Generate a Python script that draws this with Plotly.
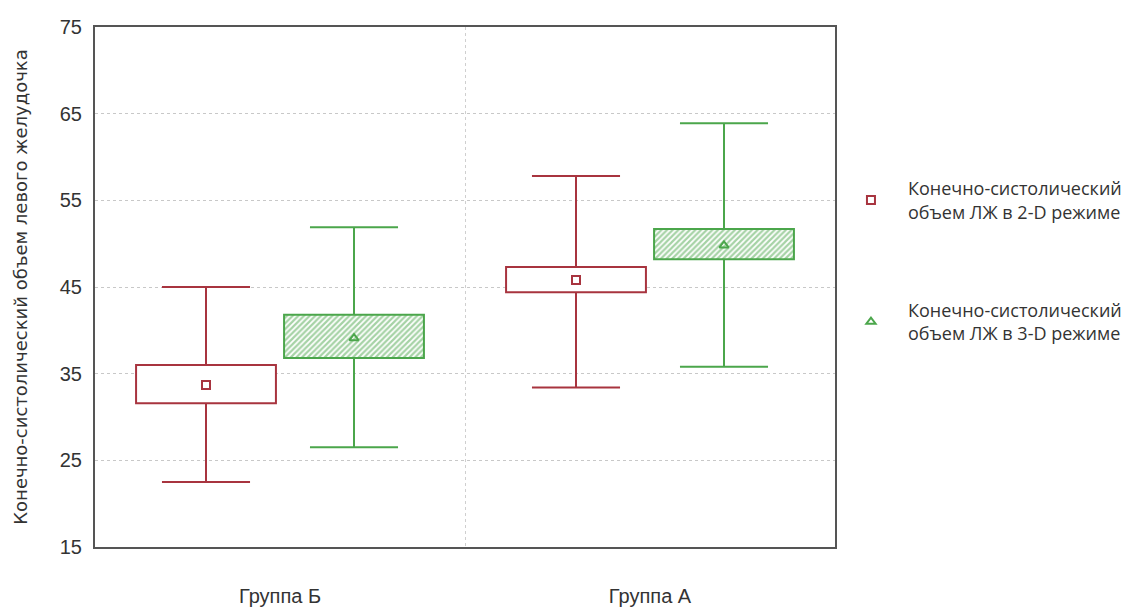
import plotly.graph_objects as go

# Groups and summary statistics (min, Q1, mean, Q3, max)
groups = ["Группа Б", "Группа А"]
group_pos = [0.5, 1.5]

series_names = [
    "Конечно-систолический<br>объем ЛЖ в 2-D режиме",
    "Конечно-систолический<br>объем ЛЖ в 3-D режиме",
]
vol_2d_min = [22.5, 33.4]
vol_2d_q1 = [31.6, 44.4]
vol_2d_mean = [33.7, 45.8]
vol_2d_q3 = [36.0, 47.3]
vol_2d_max = [45.0, 57.8]

vol_3d_min = [26.5, 35.8]
vol_3d_q1 = [36.8, 48.2]
vol_3d_mean = [39.1, 49.8]
vol_3d_q3 = [41.8, 51.7]
vol_3d_max = [51.9, 63.9]

y_ticks = [15, 25, 35, 45, 55, 65, 75]

RED = "#a8343f"
GREEN = "#4ba64b"
OFFSET = 0.2
BOX_W = 0.378
CAP_HALF = 0.119

fig = go.Figure()


def add_series(name, color, symbol, lo, q1, mean, q3, hi, shift, hatched):
    xs = [p + shift for p in group_pos]
    # box from Q1 to Q3
    marker = dict(color="white", line=dict(color=color, width=2))
    if hatched:
        marker["pattern"] = dict(shape="/", fgcolor=color, bgcolor="white",
                                 size=4, solidity=0.55)
    fig.add_trace(go.Bar(
        x=xs, y=[b - a for a, b in zip(q1, q3)], base=q1, width=BOX_W,
        marker=marker, showlegend=False, hoverinfo="skip",
    ))
    # whiskers with caps
    wx, wy = [], []
    for x, a, b, c, d in zip(xs, lo, q1, q3, hi):
        wx += [x, x, None, x - CAP_HALF, x + CAP_HALF, None,
               x, x, None, x - CAP_HALF, x + CAP_HALF, None]
        wy += [c, d, None, d, d, None, b, a, None, a, a, None]
    fig.add_trace(go.Scatter(
        x=wx, y=wy, mode="lines", line=dict(color=color, width=2),
        showlegend=False, hoverinfo="skip",
    ))
    # mean marker
    fig.add_trace(go.Scatter(
        x=xs, y=mean, mode="markers", name=name, legendgroup=name,
        marker=dict(symbol=symbol, size=8, color=color,
                    line=dict(color=color, width=2)),
    ))


add_series(series_names[0], RED, "square-open", vol_2d_min, vol_2d_q1,
           vol_2d_mean, vol_2d_q3, vol_2d_max, -OFFSET, False)
add_series(series_names[1], GREEN, "triangle-up-open", vol_3d_min, vol_3d_q1,
           vol_3d_mean, vol_3d_q3, vol_3d_max, OFFSET, True)

fig.update_layout(
    width=1146, height=611,
    margin=dict(l=95, r=311, t=27, b=64),
    paper_bgcolor="white", plot_bgcolor="white",
    barmode="overlay",
    font=dict(family="Liberation Sans, Arial, sans-serif", color="#333333"),
    legend=dict(
        x=0.9986, y=0.725, xanchor="left", yanchor="top",
        bgcolor="rgba(0,0,0,0)",
        font=dict(family="Open Sans, sans-serif", size=18, color="#333333"),
        tracegroupgap=72, valign="middle", itemwidth=64,
    ),
    xaxis=dict(
        range=[0, 2], tickvals=group_pos, ticktext=groups,
        showgrid=False, zeroline=False, automargin=False,
        showline=True, mirror=True, linecolor="#555555", linewidth=2,
        tickfont=dict(family="Liberation Sans Narrow, Arial Narrow, sans-serif",
                      size=20, color="#333333"),
        ticks="outside", ticklen=30, tickcolor="rgba(0,0,0,0)",
        minor=dict(tickvals=[1], showgrid=True, gridcolor="#cfcfcf",
                   griddash="dot", gridwidth=1),
    ),
    yaxis=dict(
        range=[15, 75], tickvals=y_ticks,
        showgrid=True, gridcolor="#c8c8c8", griddash="dot", gridwidth=1,
        zeroline=False, automargin=False,
        showline=True, mirror=True, linecolor="#555555", linewidth=2,
        tickfont=dict(size=20, color="#333333"),
        ticks="outside", ticklen=7, tickcolor="rgba(0,0,0,0)",
        title=dict(text="Конечно-систолический объем левого желудочка",
                   font=dict(family="DejaVu Sans, sans-serif", size=18,
                             color="#333333"),
                   standoff=27),
    ),
)

fig.write_html("out.html")
